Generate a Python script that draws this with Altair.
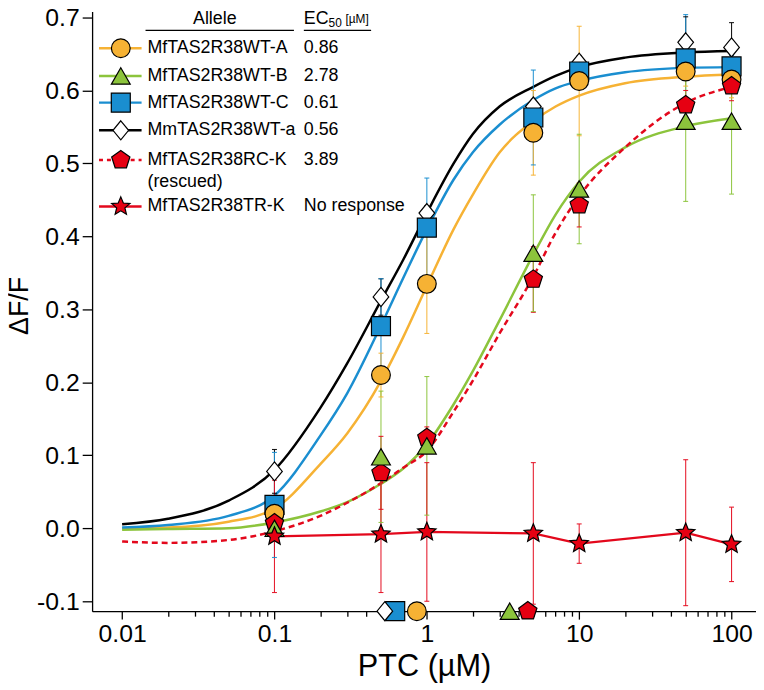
import altair as alt
import pandas as pd

# ---------------- data ----------------
conc = [0.1, 0.5, 1, 5, 10, 50, 100]
series = ["MfTAS2R38WT-A", "MfTAS2R38WT-B", "MfTAS2R38WT-C",
          "MmTAS2R38WT-a", "MfTAS2R38RC-K", "MfTAS2R38TR-K"]
ec50_text = ["0.86", "2.78", "0.61", "0.56", "3.89", "No response"]

y_A = [0.020, 0.210, 0.335, 0.542, 0.613, 0.626, 0.615]
e_A = [0.012, 0.030, 0.068, 0.058, 0.075, 0.020, 0.025]
y_B = [0.000, 0.098, 0.113, 0.377, 0.465, 0.558, 0.558]
e_B = [0.012, 0.090, 0.095, 0.080, 0.075, 0.110, 0.100]
y_C = [0.032, 0.277, 0.412, 0.563, 0.626, 0.644, 0.633]
e_C = [0.072, 0.065, 0.068, 0.065, 0.020, 0.060, 0.015]
y_a = [0.078, 0.317, 0.432, 0.578, 0.638, 0.666, 0.659]
e_a = [0.030, 0.025, 0.010, 0.010, 0.010, 0.035, 0.034]
y_RC = [0.007, 0.076, 0.124, 0.341, 0.443, 0.580, 0.606]
e_RC = [0.020, 0.050, 0.015, 0.045, 0.030, 0.020, 0.020]
y_TR = [-0.011, -0.008, -0.005, -0.007, -0.021, -0.006, -0.022]
e_TR = [0.077, 0.080, 0.095, 0.097, 0.027, 0.100, 0.051]

# fitted curves
curve_x = [0.01, 0.02, 0.05, 0.1, 0.2, 0.3, 0.5, 0.7, 1, 1.5, 2, 3, 5, 7, 10, 20, 50, 100]
curve_A = [0.000, 0.001, 0.009, 0.027, 0.088, 0.130, 0.202, 0.262, 0.332, 0.410, 0.457, 0.515, 0.558, 0.578, 0.593, 0.610, 0.619, 0.622]
curve_B = [-0.002, -0.001, 0.000, 0.008, 0.023, 0.036, 0.061, 0.082, 0.115, 0.170, 0.215, 0.285, 0.375, 0.430, 0.475, 0.522, 0.551, 0.562]
curve_C = [0.001, 0.0045, 0.017, 0.045, 0.127, 0.185, 0.278, 0.343, 0.410, 0.478, 0.515, 0.553, 0.587, 0.603, 0.613, 0.625, 0.631, 0.632]
curve_a = [0.0055, 0.013, 0.038, 0.080, 0.165, 0.226, 0.312, 0.368, 0.432, 0.500, 0.540, 0.578, 0.605, 0.620, 0.632, 0.645, 0.652, 0.654]
curve_RC = [-0.018, -0.020, -0.016, -0.004, 0.017, 0.035, 0.062, 0.083, 0.106, 0.160, 0.202, 0.267, 0.345, 0.405, 0.455, 0.522, 0.583, 0.605]

# EC50 markers on the x axis (series, position)
ec_marker_series = ["MfTAS2R38WT-C", "MmTAS2R38WT-a", "MfTAS2R38WT-A", "MfTAS2R38WT-B", "MfTAS2R38RC-K"]
ec_marker_x = [0.62, 0.53, 0.86, 3.5, 4.6]

x_ticks = [m * 10 ** p for p in range(-2, 2) for m in range(1, 10)] + [100]
y_ticks = [-0.1, 0.0, 0.1, 0.2, 0.3, 0.4, 0.5, 0.6, 0.7]

# ---------------- styles ----------------
ORANGE, GREEN, BLUE, BLACK, RED = "#F6B234", "#8CC43C", "#1A8ED0", "#000000", "#E3081C"
line_colors = [ORANGE, GREEN, BLUE, BLACK, RED, RED]
fill_colors = [ORANGE, GREEN, BLUE, "#FFFFFF", "#E60012", "#E60012"]
TRI = "M0,-0.87L1,0.87L-1,0.87Z"
DIA = "M0,-1L0.82,0L0,1L-0.82,0Z"
PENT = "M0,-1L0.9511,-0.309L0.5878,0.809L-0.5878,0.809L-0.9511,-0.309Z"
STAR = ("M0,-1L0.2645,-0.3641L0.9511,-0.309L0.428,0.1391L0.5878,0.809L0,0.45"
        "L-0.5878,0.809L-0.428,0.1391L-0.9511,-0.309L-0.2645,-0.3641Z")
shapes = ["circle", TRI, "square", DIA, PENT, STAR]
sizes = [360, 380, 300, 470, 400, 420]

FONT = "Liberation Sans"

color_scale = alt.Scale(domain=series, range=line_colors)
fill_scale = alt.Scale(domain=series, range=fill_colors)
shape_scale = alt.Scale(domain=series, range=shapes)
size_scale = alt.Scale(domain=series, range=sizes)

XDOM = [0.006353, 144.7]
YDOM = [-0.1136, 0.7081]
xs = alt.Scale(type="log", domain=XDOM, nice=False)
ys = alt.Scale(domain=YDOM, nice=False, zero=False)

# ---------------- tables ----------------
ys_all = [y_A, y_B, y_C, y_a, y_RC, y_TR]
es_all = [e_A, e_B, e_C, e_a, e_RC, e_TR]
rows = []
for s, yv, ev in zip(series, ys_all, es_all):
    for c, y, e in zip(conc, yv, ev):
        rows.append({"series": s, "x": c, "y": y, "lo": y - e, "hi": y + e})
pts = pd.DataFrame(rows)
draw_order = ["MmTAS2R38WT-a", "MfTAS2R38WT-C", "MfTAS2R38WT-A",
              "MfTAS2R38RC-K", "MfTAS2R38WT-B", "MfTAS2R38TR-K"]
pts["o"] = pts["series"].map({s: i for i, s in enumerate(draw_order)})
pts = pts.sort_values(["o", "x"]).reset_index(drop=True)

curves_all = [curve_A, curve_B, curve_C, curve_a, curve_RC]
crow = []
for s, cv in zip(series[:5], curves_all):
    for x, y in zip(curve_x, cv):
        crow.append({"series": s, "x": x, "y": y})
curves = pd.DataFrame(crow)

ecm = pd.DataFrame({"series": ec_marker_series, "x": ec_marker_x, "y": [YDOM[0]] * len(ec_marker_x)})

DECADE = "abs(log(datum.value)/LN10 - round(log(datum.value)/LN10)) < 1e-6"
X = alt.X("x:Q", scale=xs, axis=alt.Axis(
    values=x_ticks, title="PTC (µM)", grid=False,
    labelExpr=DECADE + " ? format(datum.value, '~g') : ''",
    tickSize={"condition": {"test": DECADE, "value": 8}, "value": 5},
    labelOverlap=False, labelFlush=False, labelPadding=3, titlePadding=5,
    titleFontSize=31))
Y = alt.Y("y:Q", scale=ys, axis=alt.Axis(
    values=y_ticks, title="ΔF/F", grid=False, tickSize=10, labelPadding=3,
    labelExpr="(datum.value < -1e-9 ? '-' : '') + format(abs(datum.value), '.1f')",
    labelOverlap=False, labelFlush=False,
    titleX=-65, titleY=297, titleAngle=270, titleAlign="center",
    titleBaseline="alphabetic", titleFontSize=27))

base_c = alt.Chart(curves)
solid = base_c.transform_filter(alt.datum.series != "MfTAS2R38RC-K").mark_line(
    strokeWidth=2.5, interpolate="monotone").encode(
    x=X, y=Y, detail="series:N", color=alt.Color("series:N", scale=color_scale, legend=None))
dashed = base_c.transform_filter(alt.datum.series == "MfTAS2R38RC-K").mark_line(
    strokeWidth=2.5, interpolate="monotone", strokeDash=[6, 4]).encode(
    x="x:Q", y="y:Q", color=alt.Color("series:N", scale=color_scale, legend=None))

tr_line = alt.Chart(pts).transform_filter(alt.datum.series == "MfTAS2R38TR-K").mark_line(
    strokeWidth=2.2).encode(x="x:Q", y="y:Q",
                            color=alt.Color("series:N", scale=color_scale, legend=None))

err = alt.Chart(pts).mark_rule(strokeWidth=1.1, opacity=0.9).encode(
    x="x:Q", y="lo:Q", y2="hi:Q", color=alt.Color("series:N", scale=color_scale, legend=None))
cap_hi = alt.Chart(pts).mark_tick(orient="horizontal", size=5, thickness=1.1, opacity=0.9).encode(
    x="x:Q", y="hi:Q", color=alt.Color("series:N", scale=color_scale, legend=None))
cap_lo = alt.Chart(pts).mark_tick(orient="horizontal", size=5, thickness=1.1, opacity=0.9).encode(
    x="x:Q", y="lo:Q", color=alt.Color("series:N", scale=color_scale, legend=None))

point_enc = dict(
    shape=alt.Shape("series:N", scale=shape_scale, legend=None),
    fill=alt.Fill("series:N", scale=fill_scale, legend=None),
    size=alt.Size("series:N", scale=size_scale, legend=None),
)
points = alt.Chart(pts).mark_point(filled=True, opacity=1, stroke="black", strokeWidth=1.2).encode(
    x="x:Q", y="y:Q", **point_enc)
ec_points = alt.Chart(ecm).mark_point(filled=True, opacity=1, stroke="black", strokeWidth=1.2).encode(
    x="x:Q", y="y:Q", **point_enc)

# ---------------- legend table (layout in pixels) ----------------
leg_row_px = [37, 65, 92, 120, 150, 197]
leg = pd.DataFrame({"series": series, "name": series, "ec": ec50_text, "ly": leg_row_px})
LY = alt.Y("ly:Q", scale=None, axis=None)
leg_line = alt.Chart(leg).transform_filter(alt.datum.series != "MfTAS2R38RC-K").mark_rule(strokeWidth=2.5).encode(
    x=alt.value(7), x2=alt.value(50), y=LY, color=alt.Color("series:N", scale=color_scale, legend=None))
leg_dash = alt.Chart(leg).transform_filter(alt.datum.series == "MfTAS2R38RC-K").mark_rule(
    strokeWidth=2.5, strokeDash=[4, 4]).encode(
    x=alt.value(7), x2=alt.value(50), y=LY, color=alt.Color("series:N", scale=color_scale, legend=None))
leg_pts = alt.Chart(leg).mark_point(filled=True, opacity=1, stroke="black", strokeWidth=1.2).encode(
    x=alt.value(29), y=LY, **point_enc)
leg_name = alt.Chart(leg).mark_text(align="left", baseline="middle", font=FONT, fontSize=18, color="black").encode(
    x=alt.value(56), y=LY, text="name:N")
leg_ec = alt.Chart(leg).mark_text(align="left", baseline="middle", font=FONT, fontSize=18, color="black").encode(
    x=alt.value(214), y=LY, text="ec:N")
resc = alt.Chart(pd.DataFrame({"t": ["(rescued)"]})).mark_text(
    align="left", baseline="middle", font=FONT, fontSize=18, color="black").encode(
    x=alt.value(56), y=alt.value(172), text="t:N")

hdr = pd.DataFrame({"t": ["Allele"]})
h_allele = alt.Chart(hdr).mark_text(align="center", baseline="middle", font=FONT, fontSize=18, color="black").encode(
    x=alt.value(124), y=alt.value(8), text="t:N")
h_ec = alt.Chart(pd.DataFrame({"t": ["EC"]})).mark_text(align="left", baseline="middle", font=FONT, fontSize=18, color="black").encode(
    x=alt.value(214), y=alt.value(8), text="t:N")
h_50 = alt.Chart(pd.DataFrame({"t": ["50"]})).mark_text(align="left", baseline="middle", font=FONT, fontSize=12, color="black").encode(
    x=alt.value(239), y=alt.value(12), text="t:N")
h_um = alt.Chart(pd.DataFrame({"t": ["[µM]"]})).mark_text(align="left", baseline="middle", font=FONT, fontSize=12, color="black").encode(
    x=alt.value(256), y=alt.value(8), text="t:N")
ul1 = alt.Chart(hdr).mark_rule(strokeWidth=1.2, color="black").encode(
    x=alt.value(54), x2=alt.value(204), y=alt.value(19))
ul2 = alt.Chart(hdr).mark_rule(strokeWidth=1.2, color="black").encode(
    x=alt.value(214), x2=alt.value(282), y=alt.value(19))

chart = alt.layer(
    solid, dashed, err, cap_hi, cap_lo, tr_line, points, ec_points,
    leg_line, leg_dash, leg_pts, leg_name, leg_ec, resc,
    h_allele, h_ec, h_50, h_um, ul1, ul2,
).properties(
    width=671, height=606,
    autosize=alt.AutoSizeParams(type="none"),
    padding={"left": 85, "top": 0, "right": 0, "bottom": 76},
).configure_view(strokeWidth=0).configure_axis(
    labelFont=FONT, titleFont=FONT, labelFontSize=25,
    titleFontWeight="normal", labelColor="black", titleColor="black",
    domainColor="black", tickColor="black", domainWidth=1.3, tickWidth=1.3,
)

chart.save("out.html", embed_options={"renderer": "svg", "actions": False})
